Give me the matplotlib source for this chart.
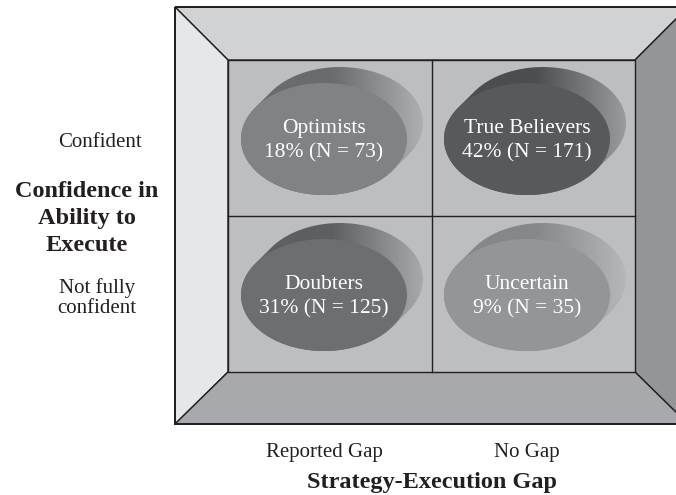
import numpy as np
import matplotlib
matplotlib.use('Agg')
import matplotlib.pyplot as plt
from matplotlib.patches import Polygon, Ellipse, PathPatch
from matplotlib.path import Path

# Quadranten-Daten
groups = ['Optimists', 'True Believers', 'Doubters', 'Uncertain']
shares = [18, 42, 31, 9]
counts = [73, 171, 125, 35]
gap_cat = ['Reported Gap', 'No Gap', 'Reported Gap', 'No Gap']
conf_cat = ['Confident', 'Confident', 'Not fully confident', 'Not fully confident']

x_labels = ['Reported Gap', 'No Gap']
y_labels = ['Confident', 'Not fully\nconfident']
x_title = 'Strategy-Execution Gap'
y_title = 'Confidence in\nAbility to\nExecute'

# Farben
front_col = {'Optimists': '#808285', 'True Believers': '#58595b',
             'Doubters': '#6d6e71', 'Uncertain': '#939598'}
side_col = {'Optimists': ('#6a6b6e', '#aeafb2'), 'True Believers': ('#4c4d4f', '#9a9b9e'),
            'Doubters': ('#5e5f62', '#a8a9ac'), 'Uncertain': ('#86878a', '#b6b7ba')}

plt.rcParams['font.family'] = ['Liberation Serif', 'DejaVu Serif']

fig = plt.figure(figsize=(6.76, 4.95), dpi=100)
ax = fig.add_axes([0, 0, 1, 1])
ax.set_xlim(0, 676)
ax.set_ylim(495, 0)
ax.axis('off')

# Rahmen (Pixel-Layout)
L, T, R, B = 175, 7, 688, 424
il, it, ir, ib = 228, 60, 635, 372
mx, my = 432, 216
edge = '#231f20'

panels = [
    ([(L, T), (R, T), (ir, it), (il, it)], '#d1d2d4'),
    ([(L, T), (il, it), (il, ib), (L, B)], '#e6e7e8'),
    ([(R, T), (R, B), (ir, ib), (ir, it)], '#939598'),
    ([(L, B), (il, ib), (ir, ib), (R, B)], '#a7a9ac'),
    ([(il, it), (ir, it), (ir, ib), (il, ib)], '#bcbec0'),
]
for pts, c in panels:
    ax.add_patch(Polygon(pts, closed=True, facecolor=c, edgecolor=edge, lw=1.0, zorder=1))
ax.add_patch(Polygon([(L, T), (R, T), (R, B), (L, B)], closed=True, fill=False,
                     edgecolor=edge, lw=1.4, zorder=2))
ax.plot([mx, mx], [it, ib], color=edge, lw=1.0, zorder=2)
ax.plot([il, ir], [my, my], color=edge, lw=1.0, zorder=2)

# Ellipsen
col_x = {'Reported Gap': 324, 'No Gap': 527}
row_y = {'Confident': 139, 'Not fully confident': 295}
ew, eh = 166, 112
off = np.array([16.0, -16.0])
t = np.linspace(0, 2 * np.pi, 400)

for g, s, n, gc, cc in zip(groups, shares, counts, gap_cat, conf_cat):
    cx, cy = col_x[gc], row_y[cc]
    a, b = ew / 2, eh / 2
    px = cx + a * np.cos(t)
    py = cy + b * np.sin(t)
    back = (np.cos(t) / a * off[0] + np.sin(t) / b * off[1]) > 0
    sx = np.where(back, px + off[0], px)
    sy = np.where(back, py + off[1], py)
    path = Path(np.column_stack([sx, sy]))
    clip = PathPatch(path, facecolor='none', edgecolor='none')
    ax.add_patch(clip)
    c0, c1 = side_col[g]
    grad = np.linspace(0, 1, 256).reshape(1, -1)
    cmap = matplotlib.colors.LinearSegmentedColormap.from_list('g', [c0, c0, c1])
    im = ax.imshow(grad, cmap=cmap, aspect='auto',
                   extent=(cx - a, cx + a + off[0], cy + b, cy - b + off[1]), zorder=3)
    im.set_clip_path(clip)
    ax.add_patch(Ellipse((cx, cy), ew, eh, facecolor=front_col[g], edgecolor='none', zorder=4))
    ax.text(cx, cy - 6, g, ha='center', va='baseline', color='white', fontsize=15.5, zorder=5)
    ax.text(cx, cy + 18, f'{s}% (N = {n})', ha='center', va='baseline', color='white',
            fontsize=15.5, zorder=5)

ax.set_xlim(0, 676)
ax.set_ylim(495, 0)

# Achsenbeschriftungen
txt = '#231f20'
ax.text(100, 147, y_labels[0], ha='center', va='baseline', fontsize=15, color=txt)
for i, line in enumerate(y_labels[1].split('\n')):
    ax.text(97, 293 + 20 * i, line, ha='center', va='baseline', fontsize=15, color=txt)
for i, line in enumerate(y_title.split('\n')):
    ax.text(87, 197 + 27 * i, line, ha='center', va='baseline', fontsize=17.5,
            fontweight='bold', color=txt)

ax.text(324, 457, x_labels[0], ha='center', va='baseline', fontsize=15, color=txt)
ax.text(527, 457, x_labels[1], ha='center', va='baseline', fontsize=15, color=txt)
ax.text(432, 488, x_title, ha='center', va='baseline', fontsize=17.5, fontweight='bold', color=txt)

fig.savefig('out.png', dpi=100)
